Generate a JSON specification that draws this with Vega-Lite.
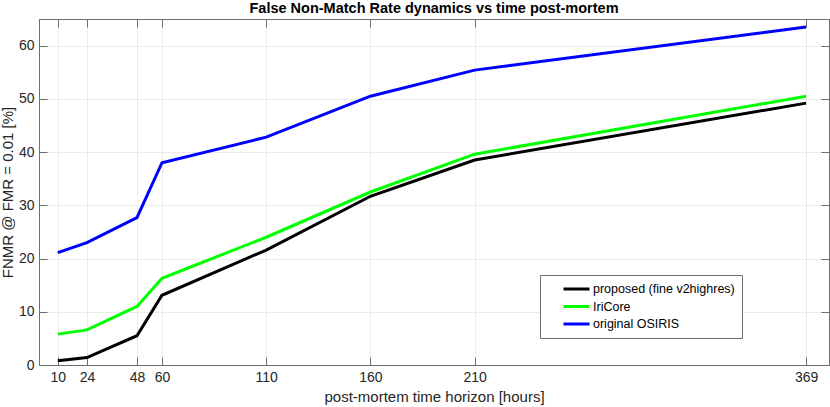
{
  "$schema": "https://vega.github.io/schema/vega-lite/v6.json",
  "width": 790,
  "height": 346,
  "autosize": {"type": "none"},
  "padding": {"left": 39, "top": 19, "right": 1, "bottom": 42},
  "title": {"text": "False Non-Match Rate dynamics vs time post-mortem", "fontSize": 14.5, "fontWeight": "bold", "font": "Liberation Sans", "offset": 2, "color": "#000000", "anchor": "middle"},
  "data": {"values": [
    {"t": 10, "fnmr": 0.8, "method": "proposed (fine v2highres)"},
    {"t": 24, "fnmr": 1.4, "method": "proposed (fine v2highres)"},
    {"t": 48, "fnmr": 5.5, "method": "proposed (fine v2highres)"},
    {"t": 60, "fnmr": 13.1, "method": "proposed (fine v2highres)"},
    {"t": 110, "fnmr": 21.6, "method": "proposed (fine v2highres)"},
    {"t": 160, "fnmr": 31.7, "method": "proposed (fine v2highres)"},
    {"t": 210, "fnmr": 38.5, "method": "proposed (fine v2highres)"},
    {"t": 369, "fnmr": 49.2, "method": "proposed (fine v2highres)"},
    {"t": 10, "fnmr": 5.8, "method": "IriCore"},
    {"t": 24, "fnmr": 6.6, "method": "IriCore"},
    {"t": 48, "fnmr": 11.0, "method": "IriCore"},
    {"t": 60, "fnmr": 16.3, "method": "IriCore"},
    {"t": 110, "fnmr": 24.0, "method": "IriCore"},
    {"t": 160, "fnmr": 32.5, "method": "IriCore"},
    {"t": 210, "fnmr": 39.6, "method": "IriCore"},
    {"t": 369, "fnmr": 50.5, "method": "IriCore"},
    {"t": 10, "fnmr": 21.1, "method": "original OSIRIS"},
    {"t": 24, "fnmr": 23.0, "method": "original OSIRIS"},
    {"t": 48, "fnmr": 27.7, "method": "original OSIRIS"},
    {"t": 60, "fnmr": 38.0, "method": "original OSIRIS"},
    {"t": 110, "fnmr": 42.8, "method": "original OSIRIS"},
    {"t": 160, "fnmr": 50.5, "method": "original OSIRIS"},
    {"t": 210, "fnmr": 55.4, "method": "original OSIRIS"},
    {"t": 369, "fnmr": 63.5, "method": "original OSIRIS"}
  ]},
  "config": {
    "font": "Liberation Sans",
    "view": {"stroke": "#6e6e6e", "strokeWidth": 1},
    "axis": {
      "domainColor": "#6e6e6e",
      "tickColor": "#6e6e6e",
      "gridColor": "#ebebeb",
      "gridWidth": 1,
      "labelColor": "#262626",
      "titleColor": "#262626",
      "labelFont": "Liberation Sans",
      "titleFont": "Liberation Sans",
      "labelFontSize": 14,
      "titleFontSize": 15,
      "titleFontWeight": "normal",
      "tickSize": -8
    }
  },
  "layer": [
    {
      "mark": {"type": "line", "strokeWidth": 3, "clip": true},
      "encoding": {
        "x": {"field": "t", "type": "quantitative",
          "scale": {"domain": [1, 380], "nice": false, "zero": false},
          "axis": {"values": [10, 24, 48, 60, 110, 160, 210, 369], "title": "post-mortem time horizon [hours]", "grid": true, "labelPadding": 13, "titlePadding": 5}},
        "y": {"field": "fnmr", "type": "quantitative",
          "scale": {"domain": [0, 65], "nice": false},
          "axis": {"values": [0, 10, 20, 30, 40, 50, 60], "title": "FNMR @ FMR = 0.01 [%]", "grid": true, "labelPadding": 13, "titlePadding": 3}},
        "color": {"field": "method", "type": "nominal",
          "scale": {"domain": ["proposed (fine v2highres)", "IriCore", "original OSIRIS"], "range": ["#000000", "#00ff00", "#0000ff"]},
          "legend": {"title": null, "orient": "none", "legendX": 501, "legendY": 256, "fillColor": "#ffffff", "strokeColor": "#6e6e6e", "padding": 7, "symbolType": "stroke", "symbolSize": 676, "symbolStrokeWidth": 3, "symbolOffset": 15, "clipHeight": 14, "labelFontSize": 12.5, "labelColor": "#000000", "rowPadding": 3.5, "labelOffset": 2, "labelLimit": 300}}
      }
    },
    {
      "mark": {"type": "line", "opacity": 0},
      "encoding": {
        "x": {"field": "t", "type": "quantitative",
          "scale": {"domain": [1, 380], "nice": false, "zero": false},
          "axis": {"orient": "top", "values": [10, 24, 48, 60, 110, 160, 210, 369], "labels": false, "title": null, "grid": false}},
        "y": {"field": "fnmr", "type": "quantitative",
          "scale": {"domain": [0, 65], "nice": false},
          "axis": {"orient": "right", "values": [0, 10, 20, 30, 40, 50, 60], "labels": false, "title": null, "grid": false}}
      }
    }
  ],
  "resolve": {"axis": {"x": "independent", "y": "independent"}}
}
